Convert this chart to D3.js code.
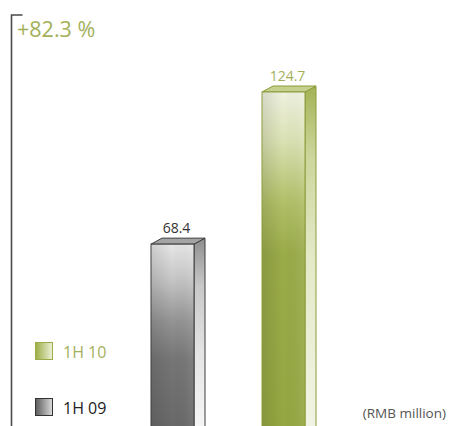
<!DOCTYPE html>
<html>
<head>
<meta charset="utf-8">
<script src="https://cdn.jsdelivr.net/npm/d3@7"></script>
<style>
  html, body { margin: 0; padding: 0; background: #fff; }
  svg { display: block; font-family: "Open Sans", "DejaVu Sans", sans-serif; }
</style>
</head>
<body>
<svg id="chart" width="451" height="426"></svg>
<script>
// Half-year revenue, RMB million
const periods = ["1H 09", "1H 10"];
const amounts = [68.4, 124.7];
const growthLabel = "+82.3 %";
const unitLabel = "(RMB million)";
const legendOrder = ["1H 10", "1H 09"];

const svg = d3.select("#chart");
const W = 451, H = 426;

const barW = 43, depthX = 11, depthY = 6;
const x = d3.scalePoint().domain(periods).range([172.5, 283.5]);
const y = d3.scaleLinear().domain([0, 124.7]).range([429, 92]);

const palette = {
  "1H 09": {
    front: [[0, "#e6e6e6"], [0.18, "#c8c8c8"], [0.42, "#939393"], [0.62, "#767676"], [1, "#686868"]],
    side: [[0, "#8e8e8e"], [0.25, "#c8c8c8"], [0.6, "#e4e4e4"], [1, "#f6f6f6"]],
    top: "#a4a4a4", line: "#3c3c3c", label: "#333333",
    legend: ["#5a5a5a", "#dcdcdc"]
  },
  "1H 10": {
    front: [[0, "#f0f2e0"], [0.15, "#dae1b2"], [0.33, "#b1c067"], [0.48, "#9aab49"], [1, "#95a742"]],
    side: [[0, "#a3b355"], [0.2, "#ccd59a"], [0.5, "#e4e9c8"], [1, "#f2f4e4"]],
    top: "#c6d08e", line: "#8a9b3a", label: "#a3b05a",
    legend: ["#9bad45", "#eef1d8"]
  }
};

const defs = svg.append("defs");
function vGrad(id, stops) {
  const g = defs.append("linearGradient").attr("id", id)
    .attr("x1", 0).attr("y1", 0).attr("x2", 0).attr("y2", 1);
  stops.forEach(([o, c]) => g.append("stop").attr("offset", o).attr("stop-color", c));
}
function hGrad(id, stops) {
  const g = defs.append("linearGradient").attr("id", id)
    .attr("x1", 0).attr("y1", 0).attr("x2", 1).attr("y2", 0);
  stops.forEach(([o, c]) => g.append("stop").attr("offset", o).attr("stop-color", c));
}
periods.forEach((p, i) => {
  const c = palette[p];
  vGrad("front" + i, c.front);
  vGrad("side" + i, c.side);
  hGrad("leg" + i, [[0, c.legend[0]], [1, c.legend[1]]]);
});
hGrad("shade", [[0, "rgba(0,0,0,0.10)"], [0.5, "rgba(0,0,0,0)"], [1, "rgba(255,255,255,0.08)"]]);

// left bracket
svg.append("path")
  .attr("d", "M22.5,15 H11.5 V" + H)
  .attr("fill", "none").attr("stroke", "#4a4a4a").attr("stroke-width", 1.6);

svg.append("text")
  .attr("x", 17).attr("y", 37)
  .attr("font-size", 21.5).attr("fill", "#a3b05a")
  .text(growthLabel);

// 3D bars
const bars = svg.append("g").selectAll("g").data(periods).join("g");
bars.each(function (p, i) {
  const g = d3.select(this);
  const c = palette[p];
  const x0 = x(p) - barW / 2, x1 = x0 + barW;
  const yt = y(amounts[i]), yb = y(0);

  g.append("path")
    .attr("d", `M${x1},${yt} L${x1 + depthX},${yt - depthY} L${x1 + depthX},${yb} L${x1},${yb} Z`)
    .attr("fill", `url(#side${i})`).attr("stroke", c.line).attr("stroke-width", 1);
  g.append("path")
    .attr("d", `M${x0},${yt} L${x0 + depthX},${yt - depthY} L${x1 + depthX},${yt - depthY} L${x1},${yt} Z`)
    .attr("fill", c.top).attr("stroke", c.line).attr("stroke-width", 1);
  g.append("rect")
    .attr("x", x0).attr("y", yt).attr("width", barW).attr("height", yb - yt)
    .attr("fill", `url(#front${i})`).attr("stroke", c.line).attr("stroke-width", 1);
  g.append("rect")
    .attr("x", x0 + 0.5).attr("y", yt + 0.5).attr("width", barW - 1).attr("height", yb - yt)
    .attr("fill", "url(#shade)");

  g.append("text")
    .attr("x", x(p) + 4).attr("y", yt - 11)
    .attr("text-anchor", "middle").attr("font-size", 14)
    .attr("fill", c.label)
    .text(amounts[i]);
});

// legend
const legend = svg.append("g").selectAll("g").data(legendOrder).join("g")
  .attr("transform", (d, i) => `translate(35,${342 + i * 56})`);
legend.append("rect")
  .attr("x", 0.5).attr("y", 0.5).attr("width", 17).attr("height", 17)
  .attr("fill", d => `url(#leg${periods.indexOf(d)})`)
  .attr("stroke", d => d === "1H 09" ? "#333" : "#9aab48").attr("stroke-width", 1);
legend.append("text")
  .attr("x", 28).attr("y", 15.5)
  .attr("font-size", 16)
  .attr("fill", d => d === "1H 09" ? "#222" : "#a3b05a")
  .text(d => d);

svg.append("text")
  .attr("x", 446).attr("y", 418)
  .attr("text-anchor", "end").attr("font-size", 13.5).attr("fill", "#555")
  .text(unitLabel);
</script>
</body>
</html>
